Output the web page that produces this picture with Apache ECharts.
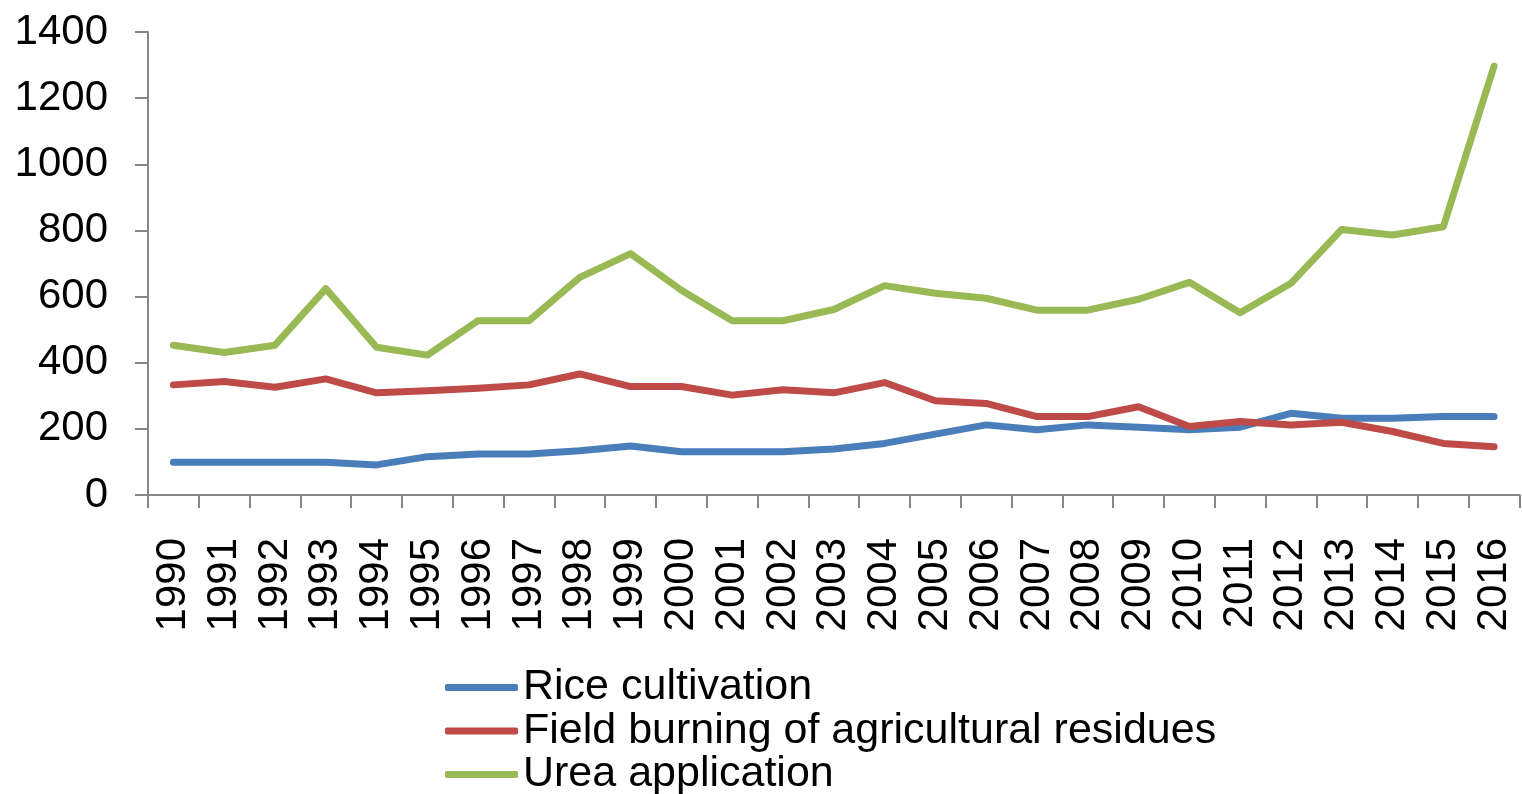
<!DOCTYPE html>
<html>
<head>
<meta charset="utf-8">
<script src="https://cdn.jsdelivr.net/npm/echarts@6/dist/echarts.min.js"></script>
<style>
html,body{margin:0;padding:0;background:#fff;}
#chart{width:1522px;height:794px;}
</style>
</head>
<body>
<div id="chart"></div>
<script>
const years = ['1990','1991','1992','1993','1994','1995','1996','1997','1998','1999','2000','2001','2002','2003','2004','2005','2006','2007','2008','2009','2010','2011','2012','2013','2014','2015','2016'];
const riceCultivation = [99,99,99,99,91,116,124,124,134,148,131,131,131,139,156,184,212,197,212,205,197,205,247,232,232,237,237];
const fieldBurning = [333,343,326,351,309,315,323,333,366,328,328,302,318,309,340,285,277,237,237,267,207,222,212,220,192,156,146];
const ureaApplication = [453,431,453,624,447,423,527,527,658,730,619,527,527,561,633,610,595,559,559,592,643,551,640,803,786,811,1297];
const seriesNames = ['Rice cultivation','Field burning of agricultural residues','Urea application'];
const colors = ['#4A7EBB','#BE4B48','#98B954'];

const font = '"Liberation Sans", Arial, sans-serif';
const axisColor = '#868686';
const chart = echarts.init(document.getElementById('chart'), null, {renderer:'canvas'});
const mk = (name, data, color) => ({
  name, type:'line', data, symbol:'none', smooth:false,
  lineStyle:{color, width:7, cap:'round', join:'round'},
  itemStyle:{color}
});
chart.setOption({
  animation:false,
  backgroundColor:'#ffffff',
  grid:{left:148, right:2.5, top:32, bottom:299, containLabel:false},
  legend:{
    orient:'vertical', left:445, top:666, height:140, padding:0,
    icon:'roundRect', itemWidth:73, itemHeight:7, itemGap:0.5,
    textStyle:{fontFamily:font, fontSize:43, color:'#000', lineHeight:42},
    data:seriesNames
  },
  xAxis:{
    type:'category', data:years, boundaryGap:true,
    axisLine:{lineStyle:{color:axisColor, width:2}},
    axisTick:{show:true, length:13, inside:false, alignWithLabel:false, lineStyle:{color:axisColor, width:2}},
    axisLabel:{rotate:90, margin:43, fontFamily:font, fontSize:42, color:'#000', interval:0},
    splitLine:{show:false}
  },
  yAxis:{
    type:'value', min:0, max:1400, interval:200,
    axisLine:{show:true, lineStyle:{color:axisColor, width:2}},
    axisTick:{show:true, length:13, lineStyle:{color:axisColor, width:2}},
    axisLabel:{margin:40, fontFamily:font, fontSize:42, color:'#000', formatter:v => String(v)},
    splitLine:{show:false}
  },
  series:[
    mk(seriesNames[0], riceCultivation, colors[0]),
    mk(seriesNames[1], fieldBurning, colors[1]),
    mk(seriesNames[2], ureaApplication, colors[2])
  ]
});
</script>
</body>
</html>
